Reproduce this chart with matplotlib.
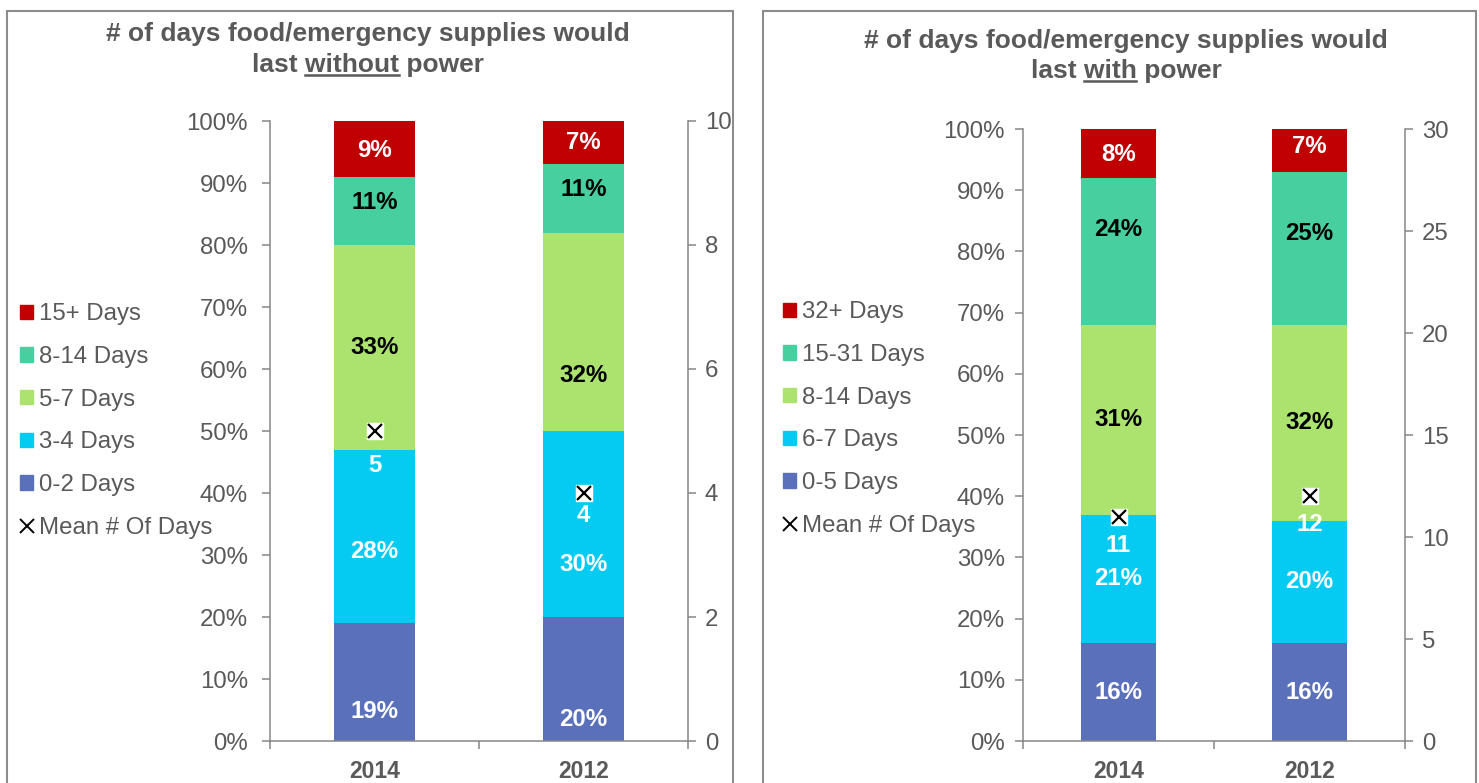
import matplotlib
matplotlib.use('Agg')
import matplotlib.pyplot as plt
from matplotlib.patches import Rectangle, Patch
from matplotlib.lines import Line2D

plt.rcParams['font.family'] = ['Liberation Sans', 'DejaVu Sans']

# ---------------- data ----------------
years = ['2014', '2012']

# supplies without power (percent of respondents)
wo_names = ['0-2 Days', '3-4 Days', '5-7 Days', '8-14 Days', '15+ Days']
wo_0_2 = [19, 20]
wo_3_4 = [28, 30]
wo_5_7 = [33, 32]
wo_8_14 = [11, 11]
wo_15 = [9, 7]
wo_mean = [5, 4]

# supplies with power
wi_names = ['0-5 Days', '6-7 Days', '8-14 Days', '15-31 Days', '32+ Days']
wi_0_5 = [16, 16]
wi_6_7 = [21, 20]
wi_8_14 = [31, 32]
wi_15_31 = [24, 25]
wi_32 = [8, 7]
wi_mean = [11, 12]

# where the segment labels sit (percent axis), per year
wo_lab_y = [[4.7, 30.5, 63.4, 86.8, 95.2], [3.5, 28.4, 58.9, 88.9, 96.5]]
wi_lab_y = [[8.0, 26.5, 52.5, 83.5, 95.8], [8.0, 26.0, 52.0, 83.0, 97.2]]
wo_mean_lab_y = [44.5, 36.3]
wi_mean_lab_y = [31.9, 35.3]

colors = ['#5B70BA', '#05CBF2', '#ABE36E', '#48CFA0', '#C00000']
txt_colors = ['white', 'white', 'black', 'black', 'white']
gray = '#595959'
axis_gray = '#868686'

W, H = 1479, 783
fig = plt.figure(figsize=(W / 100, H / 100), dpi=100)

TFS = 19      # title
KFS = 17.3    # tick labels / legend
LFS = 17.3    # bar labels


def px_rect(x0, y0, x1, y1):
    # pixel box (top-left origin) -> figure fraction rect
    return [x0 / W, 1 - y1 / H, (x1 - x0) / W, (y1 - y0) / H]


def panel(rect, series, names, mean, mean_max, mean_step, lab_y, mean_lab_y,
          ypad, leg_xy, title_xy, word):
    ax = fig.add_axes(px_rect(*rect))
    x = [0, 1]
    bottom = [0, 0]
    for i, vals in enumerate(series):
        ax.bar(x, vals, 0.39, bottom=bottom, color=colors[i], zorder=2)
        for j in range(2):
            ax.text(x[j], lab_y[j][i], f'{vals[j]}%', ha='center', va='center',
                    color=txt_colors[i], fontsize=LFS, fontweight='bold', zorder=3)
        bottom = [b + v for b, v in zip(bottom, vals)]

    ax.set_xlim(-0.5, 1.5)
    ax.set_ylim(0, 100)
    ax.set_yticks(range(0, 101, 10))
    ax.set_yticklabels([f'{v}%' for v in range(0, 101, 10)])
    ax.set_xticks([-0.5, 0.5, 1.5])
    ax.set_xticklabels(['', '', ''])
    ax.set_xticks(x, minor=True)
    ax.set_xticklabels(years, minor=True, fontweight='bold', fontsize=16.5, color=gray)
    ax.tick_params(axis='x', which='minor', length=0, pad=14)
    ax.tick_params(axis='x', which='major', length=6, width=1.1, color=axis_gray)
    ax.tick_params(axis='y', length=6, width=1.1, color=axis_gray,
                   labelcolor=gray, labelsize=KFS, pad=ypad)
    for s in ['top', 'right']:
        ax.spines[s].set_visible(False)
    for s in ['left', 'bottom']:
        ax.spines[s].set_color(axis_gray)
        ax.spines[s].set_linewidth(1.1)

    ax2 = ax.twinx()
    ax2.set_ylim(0, mean_max)
    ax2.set_yticks(range(0, mean_max + 1, mean_step))
    ax2.tick_params(axis='y', length=6, width=1.1, color=axis_gray,
                    labelcolor=gray, labelsize=KFS, pad=6)
    for s in ['top', 'left', 'bottom']:
        ax2.spines[s].set_visible(False)
    ax2.spines['right'].set_color(axis_gray)
    ax2.spines['right'].set_linewidth(1.1)
    ax2.plot(x, mean, 's', ms=12, mfc='white', mec='white', zorder=4)
    ax2.plot(x, mean, 'x', ms=10, mew=1.6, color='black', zorder=5)
    for j in range(2):
        ax.text(x[j], mean_lab_y[j], str(mean[j]), ha='center', va='center',
                color='white', fontsize=LFS, fontweight='bold', zorder=3)

    handles = [Patch(color=colors[i]) for i in range(4, -1, -1)]
    handles.append(Line2D([], [], marker='x', color='black', ls='none', ms=10, mew=1.4))
    labels = [names[i] for i in range(4, -1, -1)] + ['Mean # Of Days']
    fig.legend(handles, labels, loc='center left',
               bbox_to_anchor=(leg_xy[0] / W, 1 - leg_xy[1] / H),
               frameon=False, fontsize=KFS, labelcolor=gray, borderpad=0,
               borderaxespad=0, handlelength=0.55, handleheight=0.55,
               handletextpad=0.25, labelspacing=0.86)

    # two-line title with one underlined word
    cx, y1, y2 = title_xy
    fig.text(cx / W, 1 - y1 / H, '# of days food/emergency supplies would',
             ha='center', va='center', fontsize=TFS, fontweight='bold', color=gray)
    line2 = fig.text(cx / W, 1 - y2 / H, f'last {word} power', ha='center',
                     va='center', fontsize=TFS, fontweight='bold', color=gray)
    fig.canvas.draw()
    r = fig.canvas.get_renderer()
    bb = line2.get_window_extent(r)
    probe1 = fig.text(0, 0, f'last {word}', fontsize=TFS, fontweight='bold')
    probe2 = fig.text(0, 0, word, fontsize=TFS, fontweight='bold')
    w1 = probe1.get_window_extent(r).width
    w2 = probe2.get_window_extent(r).width
    probe1.remove()
    probe2.remove()
    x_end = bb.x0 + w1
    uy = bb.y0 + 2
    fig.add_artist(Line2D([(x_end - w2) / W, x_end / W], [uy / H, uy / H],
                          color=gray, lw=1.8))


# panel borders
for x0, x1 in [(7, 733), (763, 1476)]:
    fig.add_artist(Rectangle((x0 / W, -0.02), (x1 - x0) / W, (H - 11) / H + 0.02,
                             transform=fig.transFigure, fill=False,
                             ec='#8C8C8C', lw=1.5))

panel((270, 121, 688, 741), [wo_0_2, wo_3_4, wo_5_7, wo_8_14, wo_15], wo_names,
      wo_mean, 10, 2, wo_lab_y, wo_mean_lab_y, 10, (20, 421), (368, 34, 65), 'without')
panel((1023, 129, 1405, 741), [wi_0_5, wi_6_7, wi_8_14, wi_15_31, wi_32], wi_names,
      wi_mean, 30, 5, wi_lab_y, wi_mean_lab_y, 7, (783, 419), (1126, 41, 71), 'with')

fig.savefig('out.png', dpi=100)
